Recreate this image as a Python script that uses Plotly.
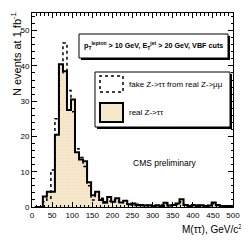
import plotly.graph_objects as go

# bin low edges (GeV), width 10
bin_width = 10
bin_low = [7 + 10 * k for k in range(50)]

real_ztt = [0, 0, 3.0, 4.3, 4.3, 20.5, 40.5, 38.5, 27.5, 30.5,
            15.5, 13.5, 13.0, 7.0, 3.3, 4.3, 2.0, 1.2, 2.8, 1.5,
            2.5, 1.3, 1.8, 0.8, 1.0, 0.5, 0.6, 0.4, 0.5, 0.3,
            0.5, 0.3, 1.2, 0.4, 0.6, 1.0, 2.2, 0.6, 0.3, 0.6,
            0.3, 0.5, 0.3, 0.4, 1.3, 0.6, 0.3, 0.3, 0.3, 0.3]

fake_ztt = [0, 0, 1.5, 2.5, 10.5, 25.0, 38.0, 46.5, 33.0, 27.0,
            16.5, 14.0, 11.5, 6.0, 2.0, 3.5, 2.5, 1.5, 1.6, 2.0,
            1.5, 1.8, 1.0, 0.8, 0.6, 0.8, 0.4, 0.6, 0.3, 0.5,
            0.4, 0.6, 0.8, 0.3, 0.5, 0.7, 1.5, 0.4, 0.5, 0.4,
            0.6, 0.3, 0.4, 0.3, 0.9, 0.4, 0.3, 0.2, 0.3, 0.2]

x_ticks = [0, 50, 100, 150, 200, 250, 300, 350, 400, 450, 500]
y_ticks = [0, 10, 20, 30, 40, 50]

def steps(vals):
    xs = list(bin_low) + [bin_low[-1] + bin_width]
    ys = list(vals) + [vals[-1]]
    return xs, ys

FONT = "Liberation Sans"
FILL = "#f6e8cd"
fig = go.Figure()

xs, ys = steps(real_ztt)
fig.add_trace(go.Scatter(x=xs, y=ys, mode="lines", line=dict(shape="hv", width=0, color="rgba(0,0,0,0)"),
                         fill="tozeroy", fillcolor=FILL,
                         fillpattern=dict(shape="+", fgcolor="#e2cba6", bgcolor=FILL, size=3, solidity=0.15),
                         showlegend=False, hoverinfo="skip"))
xf, yf = steps(fake_ztt)
fig.add_trace(go.Scatter(x=xf, y=yf, mode="lines", line=dict(shape="hv", width=1.5, color="black", dash="dot"),
                         showlegend=False))
fig.add_trace(go.Scatter(x=xs, y=ys, mode="lines", line=dict(shape="hv", width=2, color="black"),
                         showlegend=False))

# page body has an 8px margin: work in reference-pixel coordinates, shift by OFF
OFF = 8
W, H = 249 - OFF, 240 - OFF
PL, PR, PT, PB = 32, 233, 13, 207   # plot frame in reference pixels
L, R, T, B = PL - OFF, W - (PR - OFF), PT - OFF, H - (PB - OFF)
pw, ph = PR - PL, PB - PT

def px(x):
    return (x - PL) / pw

def py(y):
    return (PB - y) / ph

shapes = []
def box(x0, y0, x1, y1, shadow=True, fill="white", dash="solid", width=1):
    if shadow:
        shapes.append(dict(type="rect", xref="paper", yref="paper", x0=px(x0 + 2), x1=px(x1 + 2),
                           y0=py(y1 + 2), y1=py(y0 + 2), fillcolor="black", line=dict(width=0), layer="above"))
    shapes.append(dict(type="rect", xref="paper", yref="paper", x0=px(x0), x1=px(x1),
                       y0=py(y1), y1=py(y0), fillcolor=fill, line=dict(color="black", width=width, dash=dash),
                       layer="above"))

box(79, 34, 228, 58)
box(95, 72, 230, 127)
box(100, 76, 123, 92, shadow=False, dash="dot", width=1.5)
box(100, 103, 123, 122, shadow=False, fill=FILL, width=2)

ann = [
    dict(x=px(82), y=py(46), text="<b>p<sub>T</sub><sup>lepton</sup> > 10 GeV, E<sub>T</sub><sup>jet</sup> > 20 GeV, VBF cuts</b>",
         xanchor="left", yanchor="middle", font=dict(size=7.2, family=FONT, color="black")),
    dict(x=px(127), y=py(84), text="fake Z->ττ from real Z->μμ", xanchor="left", yanchor="middle",
         font=dict(size=8, family=FONT, color="black")),
    dict(x=px(127), y=py(113), text="real Z->ττ", xanchor="left", yanchor="middle",
         font=dict(size=8, family=FONT, color="black")),
    dict(x=px(165), y=py(163), text="CMS preliminary", xanchor="center", yanchor="middle",
         font=dict(size=8.5, family=FONT, color="black")),
    dict(x=px(244), y=py(229), text="M(ττ), GeV/c<sup>2</sup>", xanchor="right", yanchor="middle",
         font=dict(size=10, family=FONT, color="black")),
    dict(x=px(16), y=py(10), text="N events at 1 fb<sup>-1</sup>", textangle=-90, xanchor="center", yanchor="top",
         font=dict(size=11, family=FONT, color="black")),
]
for a in ann:
    a.update(xref="paper", yref="paper", showarrow=False)

fig.update_layout(
    width=W, height=H, margin=dict(l=L, r=R, t=T, b=B, autoexpand=False),
    paper_bgcolor="white", plot_bgcolor="white",
    shapes=shapes, annotations=ann, showlegend=False,
    font=dict(family=FONT, size=8, color="black"),
)
fig.update_xaxes(range=[0, 500], tickvals=x_ticks, ticks="inside", ticklen=5, tickwidth=1, tickcolor="black",
                 showline=True, linecolor="black", linewidth=1, mirror="allticks", showgrid=False, zeroline=False,
                 minor=dict(dtick=10, ticks="inside", ticklen=2.5, tickcolor="black", showgrid=False),
                 tickfont=dict(size=8, family=FONT))
fig.update_yaxes(range=[0, 55], tickvals=y_ticks, ticks="inside", ticklen=5, tickwidth=1, tickcolor="black",
                 showline=True, linecolor="black", linewidth=1, mirror="allticks", showgrid=False, zeroline=False,
                 minor=dict(dtick=2, ticks="inside", ticklen=2.5, tickcolor="black", showgrid=False),
                 tickfont=dict(size=8, family=FONT))

fig.write_html("out.html")
